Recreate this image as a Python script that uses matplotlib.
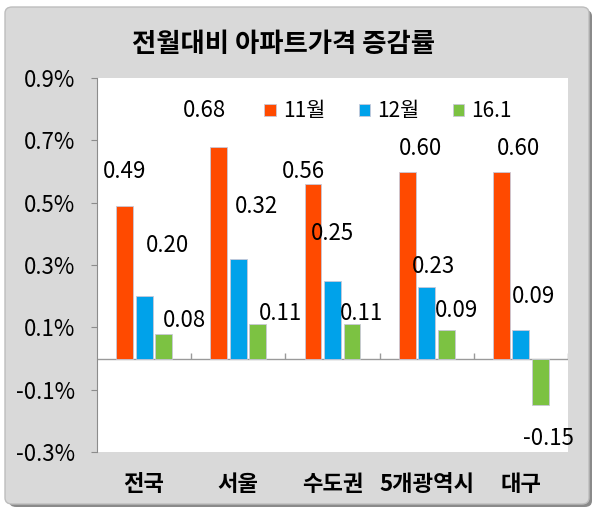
import numpy as np
import matplotlib
matplotlib.use("Agg")
from matplotlib import pyplot as plt
from matplotlib.patches import FancyBboxPatch
from matplotlib.ticker import FuncFormatter

plt.rcParams['font.family'] = ['Noto Sans CJK KR', 'DejaVu Sans']

# data
regions = ['전국', '서울', '수도권', '5개광역시', '대구']
series_names = ['11월', '12월', '16.1']
nov = [0.49, 0.68, 0.56, 0.60, 0.60]
dec = [0.20, 0.32, 0.25, 0.23, 0.09]
jan = [0.08, 0.11, 0.11, 0.09, -0.15]
y_ticks = [-0.3, -0.1, 0.1, 0.3, 0.5, 0.7, 0.9]

colors = ['#ff4a00', '#00a2ea', '#7cc242']
# label offsets in pixels (dx, dy) per series / region, from the reference layout
label_offsets = [
    [(0, 34), (-14, 36), (-10, 12), (13, 23), (17, 23)],
    [(23, 51), (18, 52), (0, 47), (7, 20), (13, 34)],
    [(21, 13), (23, 11), (10, 11), (10, 20), (8, -33)],
]

fig = plt.figure(figsize=(6, 5.12), dpi=100)
fig.patch.set_facecolor('white')

# gray panel with a soft shadow
W, H = 600, 512
shadow = FancyBboxPatch((9 / W, 5 / H), 583 / W, 497 / H,
                        boxstyle="round,pad=0,rounding_size=0.012",
                        transform=fig.transFigure, facecolor='#8a8a8a',
                        edgecolor='none', zorder=0)
panel = FancyBboxPatch((5 / W, 8 / H), 584 / W, 497 / H,
                       boxstyle="round,pad=0,rounding_size=0.012",
                       transform=fig.transFigure, facecolor='#d9d9d9',
                       edgecolor='#bdbdbd', linewidth=1, zorder=0)
fig.patches.extend([shadow, panel])

ax = fig.add_axes([97 / W, 60 / H, 471 / W, 374 / H])
ax.set_zorder(2)
ax.set_facecolor('white')

x = np.arange(len(regions))
bw = 0.18
step = 0.207
all_series = [nov, dec, jan]
for i, vals in enumerate(all_series):
    pos = x + (i - 1) * step
    bars = ax.bar(pos, vals, width=bw, color=colors[i], label=series_names[i],
                  edgecolor='#c8c8d8', linewidth=0.6, zorder=3)
    for j, b in enumerate(bars):
        v = vals[j]
        dx, dy = label_offsets[i][j]
        ax.annotate('%.2f' % v, (b.get_x() + b.get_width() / 2, v),
                    xytext=(dx, dy), textcoords='offset pixels',
                    ha='center', va='center', fontsize=16, color='black',
                    zorder=4)

ax.set_xlim(-0.5, len(regions) - 0.5)
ax.set_ylim(-0.3, 0.9)
ax.set_yticks(y_ticks)
ax.yaxis.set_major_formatter(FuncFormatter(lambda v, p: '%.1f%%' % v))
ax.set_xticks(x)
ax.set_xticklabels(regions, fontsize=16, fontweight='bold')

for s in ['top', 'right', 'bottom']:
    ax.spines[s].set_visible(False)
ax.spines['left'].set_color('#8c8c8c')
ax.tick_params(axis='y', length=4, color='#8c8c8c', pad=12, labelsize=16)
ax.tick_params(axis='x', length=0, pad=15)

# category axis at zero with small tick marks between groups
ax.axhline(0, color='#9a9a9a', linewidth=1, zorder=2)
bounds = np.arange(len(regions)) + 0.5
ax.vlines(bounds, 0, 0.018, color='#9a9a9a', linewidth=1, zorder=2)

leg = ax.legend(loc='upper center', bbox_to_anchor=(0.618, 0.99), ncol=3,
                frameon=False, fontsize=15, handlelength=0.55, handleheight=0.55,
                handletextpad=0.35, columnspacing=1.6)

fig.text(283 / W, 1 - 45 / H, '전월대비 아파트가격 증감률', ha='center',
         va='center', fontsize=19, fontweight='bold', zorder=3)

fig.savefig('out.png', dpi=100)
